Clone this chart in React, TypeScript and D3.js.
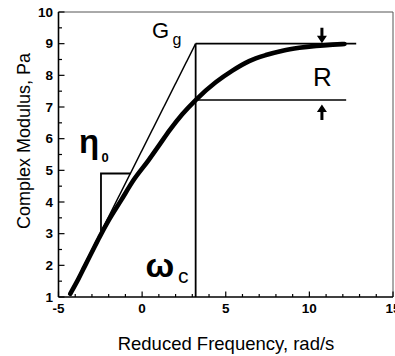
import React from "react";
import * as d3 from "d3";

const W = 395;
const H = 356;

// Master curve (reduced frequency vs complex modulus)
const curveX = [-4.3, -3.8, -3.44, -3.0, -2.54, -2.0, -1.25, -0.5, 0.4, 1.0, 1.65, 2.4, 3.2, 4.4, 5.4, 6.4, 7.4, 8.4, 9.4, 10.4, 11.4, 12.1];
const curveG = [1.1, 1.58, 1.96, 2.42, 2.9, 3.42, 4.06, 4.7, 5.33, 5.78, 6.27, 6.77, 7.22, 7.78, 8.15, 8.45, 8.64, 8.78, 8.87, 8.93, 8.97, 8.99];

// Construction lines
const omegaC = 3.2;
const Gg = 9.0;
const Gc = 7.22;
const asymX = [-4.0, omegaC];
const asymSlope = 1.05;
const upperEndX = 12.8;
const lowerEndX = 12.2;
const triX = [-2.46, -0.7];
const triG = [3.05, 4.9];
const arrowX = 10.75;

const xTicksMajor = [-5, 0, 5, 10, 15];
const yTicksMajor = [1, 2, 3, 4, 5, 6, 7, 8, 9, 10];

export default function App() {
  const x = d3.scaleLinear().domain([-5, 15]).range([58.5, 393]);
  const y = d3.scaleLinear().domain([1, 10]).range([297, 12]);

  const pts: [number, number][] = curveX.map((v, i) => [v, curveG[i]]);
  const line = d3
    .line<[number, number]>()
    .x((d) => x(d[0]))
    .y((d) => y(d[1]))
    .curve(d3.curveMonotoneX);

  const xMinor = d3.range(-5, 16, 1);
  const yMinor = d3.range(1, 10.01, 0.5);

  const asymG = (v: number) => Gg - asymSlope * (omegaC - v);
  const ax = x(arrowX);
  const font = "'Liberation Sans', Arial, Helvetica, sans-serif";

  return (
    <svg
      width={W}
      height={H}
      style={{ position: "absolute", left: 0, top: 0, background: "#fff" }}
      fontFamily={font}
    >
      {/* frame */}
      <path
        d={`M${x(-5)},${y(10)}H${x(15)}V${y(1)}`}
        fill="none"
        stroke="#555"
        strokeWidth={1}
      />
      {/* axes */}
      <line x1={x(-5)} x2={x(15)} y1={y(1)} y2={y(1)} stroke="#000" strokeWidth={1.6} />
      <line x1={x(-5)} x2={x(-5)} y1={y(1)} y2={y(10)} stroke="#000" strokeWidth={1.6} />
      {/* x ticks */}
      {xMinor.map((t) => {
        const major = xTicksMajor.includes(t);
        return (
          <line
            key={"xt" + t}
            x1={x(t)}
            x2={x(t)}
            y1={y(1)}
            y2={y(1) - (major ? 5.5 : 3)}
            stroke="#000"
            strokeWidth={1.2}
          />
        );
      })}
      {xTicksMajor.map((t) => (
        <text
          key={"xl" + t}
          x={x(t)}
          y={313}
          textAnchor="middle"
          fontSize={13.5}
          fontWeight="bold"
        >
          {t}
        </text>
      ))}
      {/* y ticks */}
      {yMinor.map((t) => {
        const major = Number.isInteger(t);
        return (
          <line
            key={"yt" + t}
            x1={x(-5)}
            x2={x(-5) + (major ? 6 : 3.5)}
            y1={y(t)}
            y2={y(t)}
            stroke="#000"
            strokeWidth={1.2}
          />
        );
      })}
      {yTicksMajor.map((t) => (
        <text
          key={"yl" + t}
          x={53}
          y={y(t) + 4.8}
          textAnchor="end"
          fontSize={13.5}
          fontWeight="bold"
        >
          {t}
        </text>
      ))}
      {/* axis titles */}
      <text x={226} y={350} textAnchor="middle" fontSize={18.5}>
        Reduced Frequency, rad/s
      </text>
      <text
        transform={`translate(30,141) rotate(-90)`}
        textAnchor="middle"
        fontSize={18}
      >
        Complex Modulus, Pa
      </text>

      {/* construction lines */}
      <line x1={x(asymX[0])} y1={y(asymG(asymX[0]))} x2={x(asymX[1])} y2={y(asymG(asymX[1]))} stroke="#000" strokeWidth={1.4} />
      <line x1={x(omegaC)} x2={x(omegaC)} y1={y(Gg)} y2={y(1)} stroke="#000" strokeWidth={1.8} />
      <line x1={x(omegaC)} x2={x(upperEndX)} y1={y(Gg)} y2={y(Gg)} stroke="#000" strokeWidth={1.6} />
      <line x1={x(omegaC)} x2={x(lowerEndX)} y1={y(Gc)} y2={y(Gc)} stroke="#000" strokeWidth={1.6} />
      <path
        d={`M${x(triX[0])},${y(triG[0])}V${y(triG[1])}H${x(triX[1])}`}
        fill="none"
        stroke="#000"
        strokeWidth={1.8}
      />

      {/* master curve */}
      <path d={line(pts) || ""} fill="none" stroke="#000" strokeWidth={4.6} strokeLinecap="round" />

      {/* arrows */}
      <path
        d={`M${ax - 1.5},${y(Gg) - 16}h3v8h3.5l-5,7.5l-5,-7.5h3.5z`}
        fill="#000"
      />
      <path
        d={`M${ax - 1.5},${y(Gc) + 20}h3v-8h3.5l-5,-7.5l-5,7.5h3.5z`}
        fill="#000"
      />

      {/* annotations */}
      <text x={152} y={38} fontSize={22}>G</text>
      <text x={172.5} y={45} fontSize={16}>g</text>
      <text x={313} y={86} fontSize={26}>R</text>
      <text x={79} y={153} fontSize={33} fontWeight="bold">η</text>
      <text x={101.5} y={162} fontSize={13} fontWeight="bold">0</text>
      <text x={145.5} y={277} fontSize={34} fontWeight="bold">ω</text>
      <text x={178} y={283} fontSize={21}>c</text>
    </svg>
  );
}
